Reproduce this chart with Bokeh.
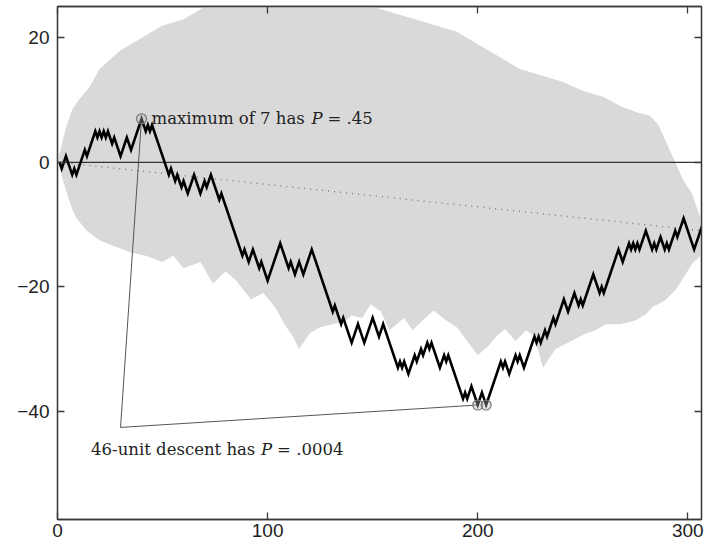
from bokeh.plotting import figure
from bokeh.models import Range1d, LinearAxis, FixedTicker
from bokeh.core.properties import value
from bokeh.embed import file_html
from bokeh.resources import INLINE

# Random walk, stored as its turning points (step, position); between two
# turning points every step moves by one unit in the same direction.
walk_x = [1, 2, 4, 7, 8, 9, 13, 14, 18, 19, 20, 21, 22, 23, 24, 26, 27, 30, 33, 35,
          40, 42, 43, 44, 45, 53, 54, 56, 57, 59, 60, 62, 65, 68, 70, 71, 73, 77, 78,
          88, 89, 91, 93, 96, 97, 100, 106, 110, 111, 113, 115, 117, 121, 131, 132,
          135, 136, 140, 143, 146, 150, 153, 155, 162, 163, 164, 165, 167, 170, 171,
          173, 174, 176, 177, 178, 182, 184, 185, 186, 193, 194, 195, 197, 200, 202,
          204, 211, 212, 213, 215, 218, 219, 220, 222, 227, 228, 229, 230, 232, 233,
          236, 237, 241, 243, 246, 248, 249, 250, 255, 258, 259, 260, 267, 269, 272,
          273, 274, 275, 276, 277, 280, 283, 284, 285, 287, 289, 290, 291, 294, 295,
          298, 303, 306, 307]
walk_y = [0, -1, 1, -2, -1, -2, 2, 1, 5, 4, 5, 4, 5, 4, 5, 3, 4, 1, 4, 2,
          7, 5, 6, 5, 6, -2, -1, -3, -2, -4, -3, -5, -2, -5, -3, -4, -2, -6, -5,
          -15, -14, -16, -14, -17, -16, -19, -13, -17, -16, -18, -16, -18, -14, -24, -23,
          -26, -25, -29, -26, -29, -25, -28, -26, -33, -32, -33, -32, -34, -31, -32,
          -30, -31, -29, -30, -29, -33, -31, -32, -31, -38, -37, -38, -36, -39, -37,
          -39, -32, -33, -32, -34, -31, -32, -31, -33, -28, -29, -28, -29, -27, -28,
          -25, -26, -22, -24, -21, -23, -22, -23, -18, -21, -20, -21, -14, -16, -13,
          -14, -13, -14, -13, -14, -11, -14, -13, -14, -12, -14, -13, -14, -11, -12,
          -9, -14, -11, -10]

# Straight line from the start of the walk to its end level
trend_x = [1, 307]
trend_y = [0, -11]

# Envelope of simulated walks tied to the same end points
upper_x = [0, 1, 4, 7, 10, 15, 20, 30, 40, 50, 60, 70, 80, 100, 120, 140, 150, 160,
           175, 190, 200, 210, 220, 230, 240, 250, 260, 268, 276, 282, 286, 290, 294,
           298, 302, 306, 309]
upper_y = [0, 1.5, 5.5, 8.5, 10, 12, 15, 18, 20, 22, 23, 25, 26, 27, 27, 26, 25, 24,
           22.5, 21, 19, 17, 15, 14, 13, 11.5, 10.5, 9, 8, 7.5, 6, 3, 0, -3, -5, -9, -11]
lower_x = [0, 1, 4, 7, 9, 14, 20, 27, 35, 42, 50, 55, 60, 68, 74, 80, 85, 92, 98, 104,
           108, 112, 115, 120, 125, 131, 137, 140, 145, 149, 154, 158, 165, 169, 175,
           179, 185, 190, 195, 200, 205, 210, 213, 218, 223, 227, 231, 237, 243, 251,
           256, 261, 268, 275, 280, 283, 289, 294, 299, 302, 306, 309]
lower_y = [0, -1, -4.5, -7.5, -9, -11, -12.5, -13.5, -14.5, -15, -16, -15, -17, -16,
           -19.5, -17.5, -19, -22, -21, -23.5, -26, -28, -30, -27.5, -26.5, -26, -25.5,
           -24.6, -25, -22.8, -24, -27, -25, -27, -25, -23.8, -25.4, -26.5, -28.7, -31,
           -29.5, -27.6, -26.8, -28.7, -27, -28, -33, -30, -29, -27.6, -27, -26, -26,
           -25.4, -24.4, -23.3, -22.2, -20.6, -18, -16.3, -15, -11]

x_ticks = [0, 100, 200, 300]
y_ticks = [-40, -20, 0, 20]
y_tick_text = {20: "20", 0: "0", -20: "\u221220", -40: "\u221240"}

# Label anchor where the two leader lines meet
leader_x = 30
leader_y = -42.6

AXIS = "#3a3a3a"
INK = "#222222"
SANS = "Liberation Sans"
SERIF = "DejaVu Serif"

p = figure(width=707, height=544, output_backend="svg", toolbar_location=None,
           x_range=Range1d(0, 306.5), y_range=Range1d(-57.4, 25.05),
           min_border_left=57, min_border_right=6, min_border_top=6,
           min_border_bottom=25)
p.background_fill_color = "white"
p.border_fill_color = "white"
p.grid.visible = False
p.outline_line_color = AXIS
p.outline_line_width = 1.3

for ax in (p.xaxis[0], p.yaxis[0]):
    ax.major_tick_in = 7
    ax.major_tick_out = 0
    ax.minor_tick_in = 0
    ax.minor_tick_out = 0
    ax.axis_line_color = AXIS
    ax.major_tick_line_color = AXIS
    ax.axis_line_width = 1.3
    ax.major_tick_line_width = 1.3
    ax.major_label_text_font = SANS
    ax.major_label_text_font_size = "19px"
    ax.major_label_text_color = INK

p.xaxis.ticker = FixedTicker(ticks=x_ticks)
p.yaxis.ticker = FixedTicker(ticks=y_ticks)
p.yaxis.major_label_overrides = y_tick_text
p.xaxis.major_label_standoff = 4
p.yaxis.major_label_standoff = 8

# tick marks on the opposite sides of the box, without labels
for side, ticks in (("right", y_ticks), ("above", x_ticks)):
    extra = LinearAxis(ticker=FixedTicker(ticks=ticks), major_tick_in=7,
                       major_tick_out=0, minor_tick_in=0, minor_tick_out=0,
                       major_label_overrides={t: "" for t in ticks},
                       major_label_standoff=0,
                       axis_line_color=AXIS, major_tick_line_color=AXIS,
                       axis_line_width=1.3, major_tick_line_width=1.3)
    p.add_layout(extra, side)

# shaded envelope
env_x = upper_x + lower_x[::-1]
env_y = upper_y + lower_y[::-1]
p.patch(env_x, env_y, fill_color="#d9d9d9", line_color=None)

# zero level
p.line([0, 306.5], [0, 0], line_color="#333333", line_width=1.4)

# trend line
p.line(trend_x, trend_y, line_color="#777777", line_width=1.4, line_dash="1 5")

# extreme points of the walk
top = max(walk_y)
i_top = walk_y.index(top)
max_pt = (walk_x[i_top], top)
bottom = min(walk_y)
min_pts = [(x, y) for x, y in zip(walk_x, walk_y) if y == bottom]

# leader lines from the lower label
p.line([leader_x, max_pt[0]], [leader_y, max_pt[1]], line_color="#555555", line_width=1)
p.line([leader_x, min_pts[0][0]], [leader_y, min_pts[0][1]], line_color="#555555",
       line_width=1)

# the walk
p.line(walk_x, walk_y, line_color="black", line_width=2.6, line_join="miter")

# circled extremes
p.scatter([max_pt[0]] + [q[0] for q in min_pts], [max_pt[1]] + [q[1] for q in min_pts],
          size=10, marker="circle", fill_color="#bbbbbb", fill_alpha=0.35,
          line_color="#777777", line_width=1.2)


def caption(x, y, parts):
    """Write a caption made of (text, pixel offset, italic) pieces."""
    for txt, dx, italic in parts:
        p.text(x=[x], y=[y], text=[txt], x_offset=dx, text_font=value(SERIF),
               text_font_style="italic" if italic else "normal",
               text_font_size="16.5px", text_baseline="middle", text_color=INK)


caption(max_pt[0], max_pt[1], [("maximum of 7 has", 10, False), ("P", 170, True),
                               ("= .45", 186, False)])
caption(16, -46.2, [("46-unit descent has", 0, False), ("P", 170, True),
                    ("= .0004", 186, False)])

open("out.html", "w").write(file_html(p, INLINE))
